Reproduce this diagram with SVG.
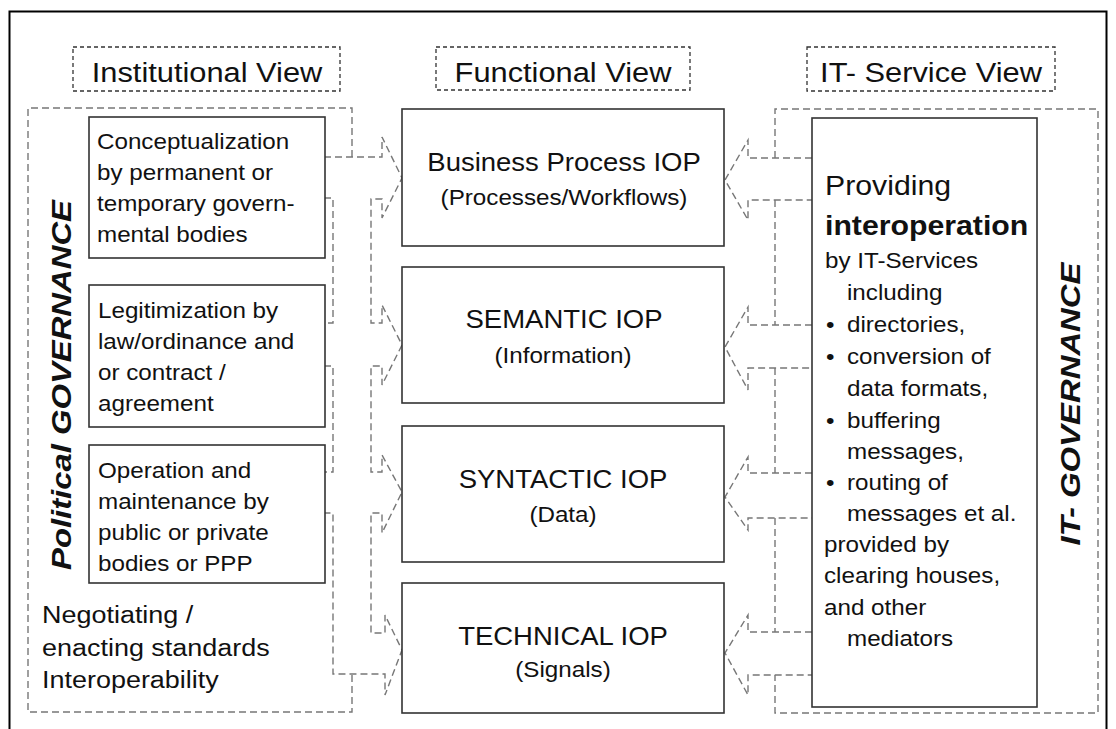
<svg xmlns="http://www.w3.org/2000/svg" width="1116" height="729" viewBox="0 0 1116 729">
<style>
text{font-family:"Liberation Sans",Arial,Helvetica,sans-serif;fill:#111}
.t28{font-size:28px}
.t25{font-size:25px}
.t22{font-size:22px}
.t24{font-size:24.5px}
.b{font-weight:bold}
.rot{font-size:27px;font-weight:bold;font-style:italic}
.box{fill:#fff;stroke:#333;stroke-width:1.6}
.hdr{fill:none;stroke:#333;stroke-width:1.3;stroke-dasharray:4 3}
.dash{fill:none;stroke:#777;stroke-width:1.4;stroke-dasharray:7 4}
</style>
<rect x="0" y="0" width="1116" height="729" fill="#fff"/>
<rect x="9.5" y="11.5" width="1097" height="740" fill="none" stroke="#000" stroke-width="2"/>

<g id="connectors">
<path class="dash" d="M352,157 L352,108 L28,108 L28,712 L352,712 L352,674"/>
<path class="dash" d="M324,157 L382,157 L382,137 L402,178 L382,218 L382,199 L371,199 L371,323 L382,323 L382,305 L402,345 L382,385 L382,366 L371,366 L371,472 L382,472 L382,455 L402,492 L382,533 L382,513 L371,513 L371,633 L385,633 L385,615 L402,650 L385,695 L385,674 L333,674 L333,513 L324,513"/>
<path class="dash" d="M324,198 L333,198 L333,323 L324,323"/>
<path class="dash" d="M324,366 L333,366 L333,472 L324,472"/>
<path class="dash" d="M775,158 L775,109 L1098,109 L1098,713 L775,713 L775,675"/>
<path class="dash" d="M812,158 L748,158 L748,140 L725,180 L748,220 L748,200 L812,200"/>
<path class="dash" d="M775,200 L775,325"/>
<path class="dash" d="M812,325 L748,325 L748,307 L725,347 L748,390 L748,368 L812,368"/>
<path class="dash" d="M775,368 L775,473"/>
<path class="dash" d="M812,473 L748,473 L748,457 L725,497 L748,530 L748,518 L812,518"/>
<path class="dash" d="M775,518 L775,632"/>
<path class="dash" d="M812,632 L748,632 L748,615 L725,653 L748,695 L748,675 L812,675"/>
</g>

<g id="hdr-institutional">
<rect class="hdr" x="73" y="47" width="267" height="44"/>
<text class="t28" text-anchor="middle" transform="matrix(1.1 0 0 1 207 82)">Institutional View</text>
</g>
<g id="hdr-functional">
<rect class="hdr" x="436" y="47" width="254" height="43"/>
<text class="t28" text-anchor="middle" transform="matrix(1.1 0 0 1 563 82)">Functional View</text>
</g>
<g id="hdr-itservice">
<rect class="hdr" x="807" y="47" width="248" height="44"/>
<text class="t28" text-anchor="middle" transform="matrix(1.1 0 0 1 931 82)">IT- Service View</text>
</g>

<g id="political-governance">
<text class="rot" text-anchor="middle" transform="translate(71,385) rotate(-90)" textLength="370" lengthAdjust="spacingAndGlyphs">Political GOVERNANCE</text>
<text class="t24" transform="matrix(1.1 0 0 1 42 623)">Negotiating /</text>
<text class="t24" transform="matrix(1.1 0 0 1 42 656)">enacting standards</text>
<text class="t24" transform="matrix(1.1 0 0 1 42 688)">Interoperability</text>
</g>

<g id="conceptualization">
<rect class="box" x="89" y="117" width="236" height="141"/>
<text class="t22" transform="matrix(1.1 0 0 1 97 149)">Conceptualization</text>
<text class="t22" transform="matrix(1.1 0 0 1 97 180)">by permanent or</text>
<text class="t22" transform="matrix(1.1 0 0 1 97 211)">temporary govern-</text>
<text class="t22" transform="matrix(1.1 0 0 1 97 242)">mental bodies</text>
</g>
<g id="legitimization">
<rect class="box" x="89" y="285" width="236" height="142"/>
<text class="t22" transform="matrix(1.1 0 0 1 98 318)">Legitimization by</text>
<text class="t22" transform="matrix(1.1 0 0 1 98 349)">law/ordinance and</text>
<text class="t22" transform="matrix(1.1 0 0 1 98 380)">or contract /</text>
<text class="t22" transform="matrix(1.1 0 0 1 98 411)">agreement</text>
</g>
<g id="operation">
<rect class="box" x="89" y="445" width="236" height="138"/>
<text class="t22" transform="matrix(1.1 0 0 1 98 478)">Operation and</text>
<text class="t22" transform="matrix(1.1 0 0 1 98 509)">maintenance by</text>
<text class="t22" transform="matrix(1.1 0 0 1 98 540)">public or private</text>
<text class="t22" transform="matrix(1.1 0 0 1 98 571)">bodies or PPP</text>
</g>

<g id="business-process-iop">
<rect class="box" x="402" y="109" width="322" height="137"/>
<text class="t25" text-anchor="middle" transform="matrix(1.1 0 0 1 564 171)">Business Process IOP</text>
<text class="t22" text-anchor="middle" transform="matrix(1.1 0 0 1 564 205)">(Processes/Workflows)</text>
</g>
<g id="semantic-iop">
<rect class="box" x="402" y="267" width="322" height="136"/>
<text class="t25" text-anchor="middle" transform="matrix(1.1 0 0 1 564 328)">SEMANTIC IOP</text>
<text class="t22" text-anchor="middle" transform="matrix(1.1 0 0 1 563 363)">(Information)</text>
</g>
<g id="syntactic-iop">
<rect class="box" x="402" y="426" width="322" height="136"/>
<text class="t25" text-anchor="middle" transform="matrix(1.1 0 0 1 563 488)">SYNTACTIC IOP</text>
<text class="t22" text-anchor="middle" transform="matrix(1.1 0 0 1 563 522)">(Data)</text>
</g>
<g id="technical-iop">
<rect class="box" x="402" y="583" width="322" height="130"/>
<text class="t25" text-anchor="middle" transform="matrix(1.1 0 0 1 563 645)">TECHNICAL IOP</text>
<text class="t22" text-anchor="middle" transform="matrix(1.1 0 0 1 563 677)">(Signals)</text>
</g>

<g id="it-services">
<rect class="box" x="812" y="118" width="225" height="589"/>
<text style="font-size:27.5px" transform="matrix(1.1 0 0 1 825 195)">Providing</text>
<text class="b" style="font-size:27.5px" transform="matrix(1.1 0 0 1 825 235)">interoperation</text>
<text class="t22" transform="matrix(1.1 0 0 1 825 268)">by IT-Services</text>
<text class="t22" transform="matrix(1.1 0 0 1 847 300)">including</text>
<text class="t22" transform="matrix(1.1 0 0 1 826 332)">•</text>
<text class="t22" transform="matrix(1.1 0 0 1 847 332)">directories,</text>
<text class="t22" transform="matrix(1.1 0 0 1 826 364)">•</text>
<text class="t22" transform="matrix(1.1 0 0 1 847 364)">conversion of</text>
<text class="t22" transform="matrix(1.1 0 0 1 847 396)">data formats,</text>
<text class="t22" transform="matrix(1.1 0 0 1 826 428)">•</text>
<text class="t22" transform="matrix(1.1 0 0 1 847 428)">buffering</text>
<text class="t22" transform="matrix(1.1 0 0 1 847 459)">messages,</text>
<text class="t22" transform="matrix(1.1 0 0 1 826 490)">•</text>
<text class="t22" transform="matrix(1.1 0 0 1 847 490)">routing of</text>
<text class="t22" transform="matrix(1.1 0 0 1 847 521)">messages et al.</text>
<text class="t22" transform="matrix(1.1 0 0 1 824 552)">provided by</text>
<text class="t22" transform="matrix(1.1 0 0 1 824 583)">clearing houses,</text>
<text class="t22" transform="matrix(1.1 0 0 1 824 615)">and other</text>
<text class="t22" transform="matrix(1.1 0 0 1 847 646)">mediators</text>
</g>

<g id="it-governance">
<text class="rot" text-anchor="middle" transform="translate(1080,404) rotate(-90)" textLength="283" lengthAdjust="spacingAndGlyphs">IT- GOVERNANCE</text>
</g>
</svg>
